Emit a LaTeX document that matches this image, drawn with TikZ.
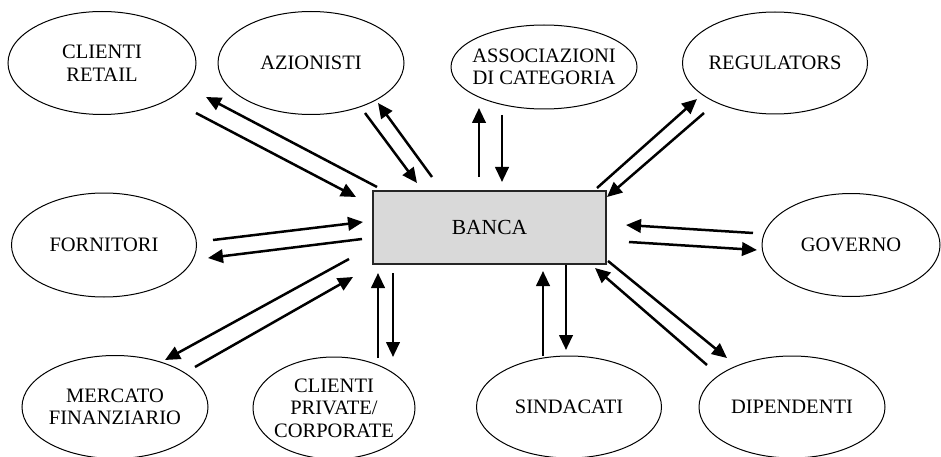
\documentclass[tikz,border=0pt]{standalone}
\usepackage{fontspec}
\setmainfont{Liberation Serif}
\usetikzlibrary{shapes.geometric,arrows.meta}
\begin{document}
\begin{tikzpicture}[x=1pt,y=-1pt,
  ent/.style={draw=black, line width=1pt, ellipse, inner sep=0pt},
  lbl/.style={align=center, font=\fontsize{20.5}{22.5}\selectfont, inner sep=0pt},
  arr/.style={-{Triangle[length=15pt,width=13.5pt]}, line width=2.5pt},
  bank/.style={draw=black!85, line width=1.5pt, fill=black!15, minimum width=233pt, minimum height=73pt, inner sep=0pt, font=\fontsize{21.5}{24}\selectfont}]
\useasboundingbox (0,0) rectangle (941,457);
% ellipses
\node[ent, minimum width=188pt, minimum height=103pt] (cr) at (102,63) {};
\node[lbl] (crt) at (cr) {CLIENTI\\RETAIL};
\node[ent, minimum width=186pt, minimum height=103pt] (az) at (311,63) {};
\node[lbl] (azt) at (az) {AZIONISTI};
\node[ent, minimum width=186pt, minimum height=84pt] (as) at (544,67) {};
\node[lbl] (ast) at (as) {ASSOCIAZIONI\\DI CATEGORIA};
\node[ent, minimum width=185pt, minimum height=102pt] (re) at (775,63) {};
\node[lbl] (ret) at (re) {REGULATORS};
\node[ent, minimum width=185pt, minimum height=104pt] (fo) at (104,245) {};
\node[lbl] (fot) at (fo) {FORNITORI};
\node[ent, minimum width=178pt, minimum height=103pt] (go) at (851,245) {};
\node[lbl] (got) at (go) {GOVERNO};
\node[ent, minimum width=186pt, minimum height=103pt] (me) at (115,407) {};
\node[lbl] (met) at (me) {MERCATO\\FINANZIARIO};
\node[ent, minimum width=162pt, minimum height=102pt] (cp) at (334,408) {};
\node[lbl] (cpt) at (cp) {CLIENTI\\PRIVATE/\\CORPORATE};
\node[ent, minimum width=185pt, minimum height=102pt] (si) at (569,407) {};
\node[lbl] (sit) at (si) {SINDACATI};
\node[ent, minimum width=186pt, minimum height=102pt] (di) at (792,407) {};
\node[lbl] (dit) at (di) {DIPENDENTI};
% bank
\node[bank] (ba) at (489.5,227.5) {BANCA};
% arrow end points
\coordinate (p1a) at (377,187); \coordinate (p1b) at (206,97);
\coordinate (p2a) at (196,113); \coordinate (p2b) at (356,197);
\coordinate (p3a) at (365,113); \coordinate (p3b) at (417,183);
\coordinate (p4a) at (432,177); \coordinate (p4b) at (378,103);
\coordinate (p5a) at (479,177); \coordinate (p5b) at (479,108);
\coordinate (p6a) at (502,115); \coordinate (p6b) at (502,182);
\coordinate (p7a) at (597,188); \coordinate (p7b) at (697,99);
\coordinate (p8a) at (704,113); \coordinate (p8b) at (607,197);
\coordinate (p9a) at (213,240); \coordinate (p9b) at (363,222);
\coordinate (p10a) at (362,239); \coordinate (p10b) at (208,258);
\coordinate (p11a) at (753,233); \coordinate (p11b) at (626,225);
\coordinate (p12a) at (629,242); \coordinate (p12b) at (757,250);
\coordinate (p13a) at (349,259); \coordinate (p13b) at (165,360);
\coordinate (p14a) at (195,367); \coordinate (p14b) at (353,277);
\coordinate (p15a) at (378,358); \coordinate (p15b) at (378,273);
\coordinate (p16a) at (393,273); \coordinate (p16b) at (393,357);
\coordinate (p17a) at (543,356); \coordinate (p17b) at (543,271);
\coordinate (p18a) at (566,265); \coordinate (p18b) at (566,350);
\coordinate (p19a) at (608,261); \coordinate (p19b) at (727,358);
\coordinate (p20a) at (707,365); \coordinate (p20b) at (595,268);
% arrows
\foreach \i in {1,...,20} \draw[arr] (p\i a) -- (p\i b);
\end{tikzpicture}
\end{document}
